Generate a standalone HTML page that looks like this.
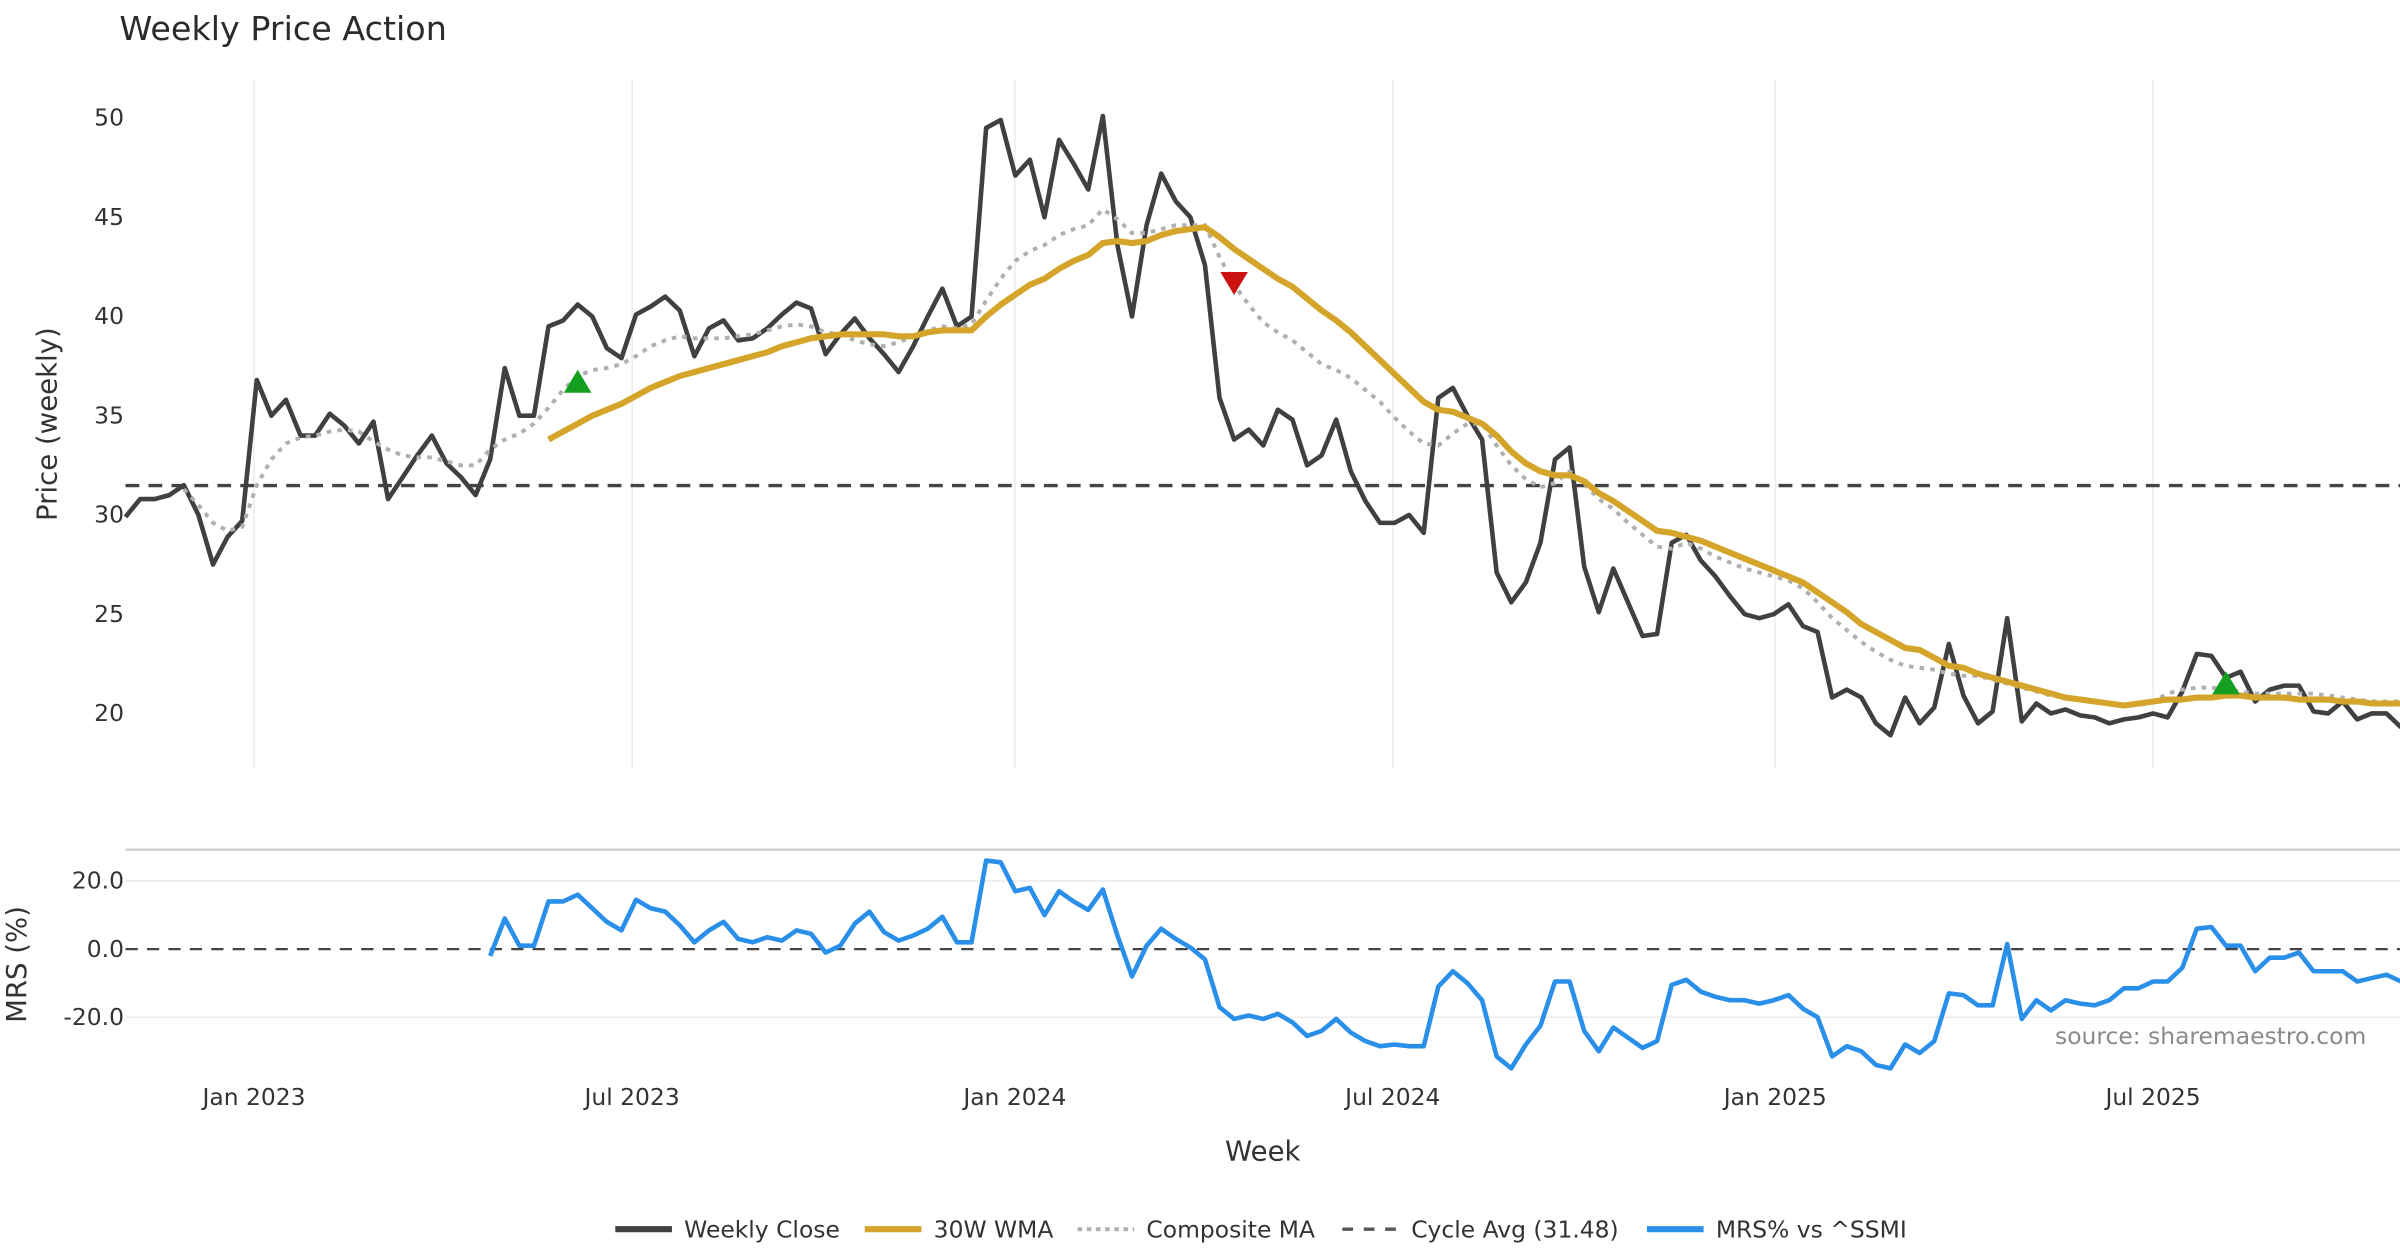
<!DOCTYPE html>
<html><head><meta charset="utf-8"><title>Weekly Price Action</title>
<style>html,body{margin:0;padding:0;background:#fff;}svg{display:block;font-family:"DejaVu Sans","Liberation Sans",sans-serif;}</style>
</head><body>
<svg id="chart" width="2400" height="1260" viewBox="0 0 1568 823" xmlns="http://www.w3.org/2000/svg">
<text x="78" y="26" font-size="21.8" fill="#2b2b2b">Weekly Price Action</text>
<text transform="translate(37,277) rotate(-90)" text-anchor="middle" font-size="18" fill="#333">Price (weekly)</text>
<text transform="translate(17,630) rotate(-90)" text-anchor="middle" font-size="18" fill="#333">MRS (%)</text>
<text x="825" y="758" text-anchor="middle" font-size="18" fill="#333">Week</text>
<text x="1546" y="682" text-anchor="end" font-size="15.3" fill="#8a8a8a">source: sharemaestro.com</text>
<g id="grid"></g><g id="marks"></g><g id="legend"></g>
</svg>
<script>
const closeVals=[29.9,30.8,30.8,31.0,31.5,30.0,27.5,28.9,29.7,36.8,35.0,35.8,34.0,34.0,35.1,34.5,33.6,34.7,30.8,31.9,33.0,34.0,32.6,31.9,31.0,32.8,37.4,35.0,35.0,39.5,39.8,40.6,40.0,38.4,37.9,40.1,40.5,41.0,40.3,38.0,39.4,39.8,38.8,38.9,39.4,40.1,40.7,40.4,38.1,39.1,39.9,38.9,38.1,37.2,38.5,40.0,41.4,39.5,40.0,49.5,49.9,47.1,47.9,45.0,48.9,47.7,46.4,50.1,
43.6,40.0,44.6,47.2,45.8,45.0,42.6,35.9,33.8,34.3,33.5,35.3,34.8,32.5,33.0,34.8,32.2,30.7,29.6,29.6,30.0,29.1,35.9,36.4,35.0,33.8,27.1,25.6,26.6,28.6,32.8,33.4,27.4,25.1,27.3,25.6,23.9,24.0,28.6,29.0,27.7,26.9,25.9,25.0,24.8,25.0,25.5,24.4,24.1,20.8,21.2,20.8,19.5,18.9,20.8,19.5,20.3,23.5,20.9,19.5,20.1,24.8,19.6,20.5,20.0,20.2,19.9,19.8,19.5,19.7,19.8,20.0,19.8,21.1,23.0,22.9,21.8,22.1,20.6,21.2,21.4,21.4,20.1,20.0,20.6,19.7,20.0,20.0,19.3];
const wmaStart=29;
const wmaVals=[33.8,34.2,34.6,35.0,35.3,35.6,36.0,36.4,36.7,37.0,37.2,37.4,37.6,37.8,38.0,38.2,38.5,38.7,38.9,39.0,39.1,39.1,39.1,39.1,39.0,39.0,39.2,39.3,39.3,39.3,40.0,40.6,41.1,41.6,41.9,42.4,42.8,43.1,43.7,43.8,43.7,43.8,44.1,44.3,44.4,44.5,44.0,43.4,42.9,42.4,41.9,41.5,40.9,40.3,39.8,39.2,38.5,37.8,37.1,36.4,35.7,35.3,35.2,34.9,34.6,34.0,33.2,32.6,32.2,32.0,32.0,31.7,31.1,30.7,30.2,29.7,29.2,29.1,28.9,28.7,28.4,28.1,27.8,27.5,27.2,26.9,26.6,26.1,25.6,25.1,24.5,24.1,23.7,23.3,23.2,22.8,22.4,22.3,22.0,21.8,21.6,21.4,21.2,21.0,20.8,20.7,20.6,20.5,20.4,20.5,20.6,20.7,20.7,20.8,20.8,20.9,20.9,20.8,20.8,20.8,20.7,20.7,20.7,20.6,20.6,20.5,20.5,20.5];
const compStart=4;
const compVals=[31.3,30.5,29.6,29.2,29.4,31.5,32.8,33.6,33.9,34.0,34.2,34.3,34.2,33.7,33.3,33.0,32.9,32.9,32.7,32.5,32.5,33.3,33.8,34.1,34.6,35.4,36.3,37.0,37.3,37.4,37.6,38.0,38.5,38.8,39.0,38.9,38.9,38.9,39.0,39.1,39.3,39.5,39.6,39.5,39.2,39.1,38.8,38.6,38.5,38.7,39.0,39.3,39.5,39.4,39.6,40.8,41.9,42.8,43.3,43.6,44.1,44.4,44.6,45.4,44.9,44.2,44.2,44.4,44.6,44.6,44.6,43.0,41.6,40.6,39.7,39.2,38.8,38.2,37.6,37.3,36.9,36.3,35.7,34.9,34.2,33.6,33.5,34.1,34.6,34.6,33.5,32.5,31.8,31.4,31.6,32.2,31.6,30.8,30.3,29.6,29.0,28.4,28.3,28.6,28.3,27.9,27.6,27.3,27.1,26.9,26.7,26.3,25.6,24.8,24.2,23.6,23.1,22.7,22.4,22.3,22.2,22.0,21.9,21.9,21.7,21.5,21.3,21.1,20.9,20.8,20.7,20.6,20.5,20.4,20.4,20.6,21.0,21.2,21.3,21.3,21.2,21.1,21.0,21.0,21.0,21.0,21.0,20.9,20.8,20.7,20.6,20.6,20.6];
const mrsStart=25;
const mrsVals=[-2,9,1,1,14,14,16,12,8,5.5,14.5,12,11,7,2,5.5,8,3,2,3.5,2.5,5.5,4.5,-1,1,7.5,11,5,2.5,4,6,9.5,2,2,26,25.5,17,18,10,17,14,11.5,17.5,4,-8,1,6,3,0.5,-3,-17,-20.5,-19.5,-20.5,-19,-21.5,-25.5,-24,-20.5,-24.5,-27,-28.5,-28,-28.5,-28.5,-11,-6.5,-10,-15,-31.5,-35,-28,-22.5,-9.5,-9.5,-24,-30,-23,-26,-29,-27,-10.5,-9,-12.5,-14,-15,-15,-16,-15,-13.5,-17.5,-20,-31.5,-28.5,-30,-34,-35,-28,-30.5,-27,-13,-13.5,-16.5,-16.5,1.5,-20.5,-15,-18,-15,-16,-16.5,-15,-11.5,-11.5,-9.5,-9.5,-5.5,6,6.5,1,1,-6.5,-2.5,-2.5,-1,-6.5,-6.5,-6.5,-9.5,-8.5,-7.5,-9.5];
const cycleAvg=31.48;
const buyWeeks=[31,144];
const buyVals=[36.7,21.5];
const sellWeeks=[76];
const sellVals=[41.7];
const priceTicks=[20,25,30,35,40,45,50];
const mrsTicks=[-20,0,20];
const mrsTickLabels=["-20.0","0.0","20.0"];
const dateTicks=[8.81,34.73,60.97,86.88,113.1,139.0];
const dateLabels=["Jan 2023","Jul 2023","Jan 2024","Jul 2024","Jan 2025","Jul 2025"];

const NS="http://www.w3.org/2000/svg";
const X0=82;
const step=9.53;
const xs=i=>X0+i*step;
const yp=v=>466-(v-20)*(389/30);
const ym=v=>620-v*2.225;
const grid=document.getElementById('grid'),marks=document.getElementById('marks'),legend=document.getElementById('legend');
function mk(tag,attrs,parent){const e=document.createElementNS(NS,tag);for(const k in attrs)e.setAttribute(k,attrs[k]);parent.appendChild(e);return e;}
function pathFrom(vals,start,yf){return vals.map((v,j)=>(j?'L':'M')+xs(start+j).toFixed(2)+' '+yf(v).toFixed(2)).join(' ');}

dateTicks.forEach((w,k)=>{
  const l=mk('line',{x1:xs(w),x2:xs(w),y1:52,y2:502,stroke:'#ececec','stroke-width':1},grid);
  
  
  const t=mk('text',{x:xs(w),y:722,'text-anchor':'middle','font-size':15.3,fill:'#333'},grid);
  t.textContent=dateLabels[k];
  
  
});
priceTicks.forEach(v=>{
  const t=mk('text',{x:81,y:yp(v)+5,'text-anchor':'end','font-size':15.3,fill:'#333'},grid);
  t.textContent=v;
  
  
});
const sep=mk('line',{x1:82,x2:1568,y1:555,y2:555,stroke:'#cfcfcf','stroke-width':1.5},grid);


mrsTicks.forEach((v,k)=>{
  if(v!==0){const l=mk('line',{x1:82,x2:1568,y1:ym(v),y2:ym(v),stroke:'#ececec','stroke-width':1},grid);
  
  }
  const t=mk('text',{x:81,y:ym(v)+5,'text-anchor':'end','font-size':15.3,fill:'#333'},grid);
  t.textContent=mrsTickLabels[k];
  
  
});

const ca=mk('line',{x1:82,x2:1568,y1:yp(cycleAvg),y2:yp(cycleAvg),stroke:'#444','stroke-width':2.2,'stroke-dasharray':'9 6'},marks);


const zl=mk('line',{x1:82,x2:1568,y1:ym(0),y2:ym(0),stroke:'#444','stroke-width':1.5,'stroke-dasharray':'8 6'},marks);



const cl=mk('path',{d:pathFrom(closeVals,0,yp),fill:'none',stroke:'#404040','stroke-width':3,'stroke-linejoin':'round'},marks);


const cm=mk('path',{d:pathFrom(compVals,compStart,yp),fill:'none',stroke:'#b0b0b0','stroke-width':2.6,'stroke-dasharray':'3 4'},marks);


const wm=mk('path',{d:pathFrom(wmaVals,wmaStart,yp),fill:'none',stroke:'#d4a52a','stroke-width':4,'stroke-linejoin':'round'},marks);


const mr=mk('path',{d:pathFrom(mrsVals,mrsStart,ym),fill:'none',stroke:'#2a8fe8','stroke-width':3,'stroke-linejoin':'round'},marks);



buyWeeks.forEach((w,k)=>{
  const x=xs(w),y=yp(buyVals[k]);
  const p=mk('polygon',{points:`${x-9},${y+7} ${x+9},${y+7} ${x},${y-8}`,fill:'#14a01e'},marks);
  
  
});
sellWeeks.forEach((w,k)=>{
  const x=xs(w),y=yp(sellVals[k]);
  const p=mk('polygon',{points:`${x-9},${y-7} ${x+9},${y-7} ${x},${y+8}`,fill:'#cc1111'},marks);
  
  
});

const items=[
 {x:402,label:'Weekly Close',stroke:'#404040',w:4,dash:'',name:'legend-weekly-close'},
 {x:565,label:'30W WMA',stroke:'#d4a52a',w:4,dash:'',name:'legend-30w-wma'},
 {x:704,label:'Composite MA',stroke:'#b0b0b0',w:2.6,dash:'3 3',name:'legend-composite-ma'},
 {x:877,label:'Cycle Avg (31.48)',stroke:'#555',w:2.2,dash:'7 7',name:'legend-cycle-avg'},
 {x:1076,label:'MRS% vs ^SSMI',stroke:'#2a8fe8',w:4,dash:'',name:'legend-mrs'}
];
items.forEach(it=>{
  const g=mk('g',{},legend);
  
  
  const a={x1:it.x,x2:it.x+37,y1:803,y2:803,stroke:it.stroke,'stroke-width':it.w};
  if(it.dash)a['stroke-dasharray']=it.dash;
  mk('line',a,g);
  const t=mk('text',{x:it.x+45,y:808.5,'font-size':15.3,fill:'#333'},g);
  t.textContent=it.label;
});
</script>
</body></html>
